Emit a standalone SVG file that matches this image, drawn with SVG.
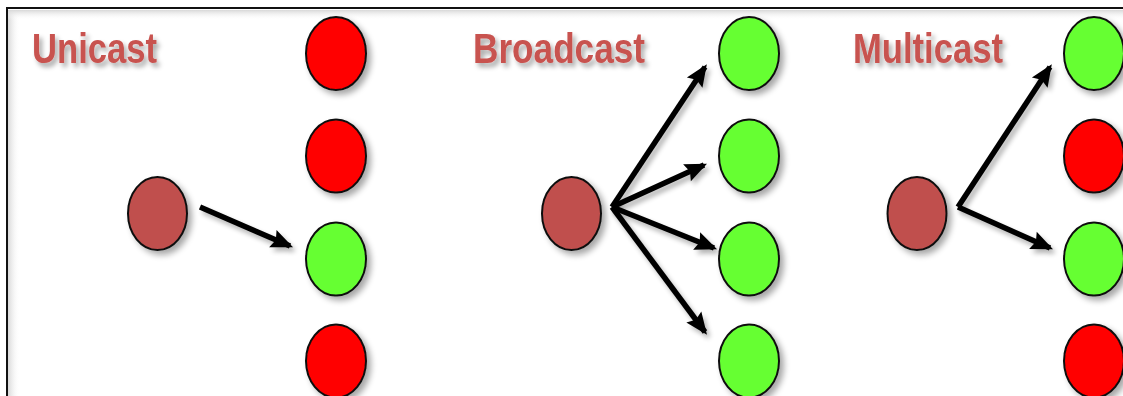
<svg xmlns="http://www.w3.org/2000/svg" width="1123" height="396" viewBox="0 0 1123 396">
  <style>
    .title { font-family: "Liberation Sans", Arial, sans-serif; font-weight: bold; font-size: 42px; fill: #C8524F; filter: url(#textShadow); }
    .node { stroke: #111; stroke-width: 2; filter: url(#nodeShadow); }
    .src { fill: #C0504D; }
    .on { fill: #66FF33; }
    .off { fill: #FF0000; }
    .link { stroke: #000; stroke-width: 5.5; fill: none; marker-end: url(#head); filter: url(#lineShadow); }
  </style>
  <defs>
    <filter id="nodeShadow" x="-40%" y="-40%" width="190%" height="190%">
      <feGaussianBlur in="SourceAlpha" stdDeviation="3"/>
      <feOffset dx="4" dy="4" result="b"/>
      <feComponentTransfer><feFuncA type="linear" slope="0.35"/></feComponentTransfer>
      <feMerge><feMergeNode/><feMergeNode in="SourceGraphic"/></feMerge>
    </filter>
    <filter id="lineShadow" x="-30%" y="-30%" width="160%" height="160%">
      <feGaussianBlur in="SourceAlpha" stdDeviation="2.5"/>
      <feOffset dx="3" dy="4" result="b"/>
      <feComponentTransfer><feFuncA type="linear" slope="0.3"/></feComponentTransfer>
      <feMerge><feMergeNode/><feMergeNode in="SourceGraphic"/></feMerge>
    </filter>
    <filter id="textShadow" x="-20%" y="-40%" width="140%" height="190%">
      <feGaussianBlur in="SourceAlpha" stdDeviation="2.5"/>
      <feOffset dx="3" dy="4" result="b"/>
      <feComponentTransfer><feFuncA type="linear" slope="0.35"/></feComponentTransfer>
      <feMerge><feMergeNode/><feMergeNode in="SourceGraphic"/></feMerge>
    </filter>
    <linearGradient id="edgeL" x1="0" x2="1" y1="0" y2="0">
      <stop offset="0" stop-color="#d8d8d8"/>
      <stop offset="1" stop-color="#ffffff" stop-opacity="0"/>
    </linearGradient>
    <linearGradient id="edgeT" x1="0" x2="0" y1="0" y2="1">
      <stop offset="0" stop-color="#d8d8d8"/>
      <stop offset="1" stop-color="#ffffff" stop-opacity="0"/>
    </linearGradient>
    <!-- arrowhead sized in user units so it stays independent of line width -->
    <marker id="head" viewBox="0 0 20 20" refX="17" refY="10" markerWidth="22" markerHeight="22" orient="auto" markerUnits="userSpaceOnUse" overflow="visible">
      <path d="M0,1.5 L20,10 L0,18.5 L3,10 Z" fill="#000"/>
    </marker>
  </defs>

  <!-- frame -->
  <rect width="1123" height="396" fill="#fff"/>
  <rect x="8" y="10" width="12" height="386" fill="url(#edgeL)"/>
  <rect x="8" y="10" width="1115" height="10" fill="url(#edgeT)"/>
  <path d="M7,396 V8 H1123" fill="none" stroke="#111" stroke-width="2"/>

  <!-- titles -->
  <text class="title" x="32" y="63" textLength="125" lengthAdjust="spacingAndGlyphs">Unicast</text>
  <text class="title" x="473" y="63" textLength="172" lengthAdjust="spacingAndGlyphs">Broadcast</text>
  <text class="title" x="853" y="63" textLength="150" lengthAdjust="spacingAndGlyphs">Multicast</text>

  <!-- connectors -->
  <g id="connectors">
    <line class="link" x1="200" y1="207" x2="290" y2="246"/>
    <polyline class="link" points="612,207 705,67"/>
    <polyline class="link" points="612,207 704,165"/>
    <polyline class="link" points="612,207 714,248"/>
    <polyline class="link" points="612,207 705,332"/>
    <polyline class="link" points="958,207 1050,67"/>
    <polyline class="link" points="958,207 1050,248"/>
  </g>

  <!-- unicast -->
  <g id="uni-src"><ellipse class="node src" cx="157.5" cy="213.5" rx="29.5" ry="36.5"/></g>
  <g id="uni-1"><ellipse class="node off" cx="336" cy="53.5" rx="30" ry="36.5"/></g>
  <g id="uni-2"><ellipse class="node off" cx="336" cy="156" rx="30" ry="36.5"/></g>
  <g id="uni-3"><ellipse class="node on" cx="336" cy="259" rx="30" ry="36.5"/></g>
  <g id="uni-4"><ellipse class="node off" cx="336" cy="361" rx="30" ry="36.5"/></g>

  <!-- broadcast -->
  <g id="bc-src"><ellipse class="node src" cx="571.5" cy="213.5" rx="29.5" ry="36.5"/></g>
  <g id="bc-1"><ellipse class="node on" cx="749" cy="53.5" rx="30" ry="36.5"/></g>
  <g id="bc-2"><ellipse class="node on" cx="749" cy="156" rx="30" ry="36.5"/></g>
  <g id="bc-3"><ellipse class="node on" cx="749" cy="259" rx="30" ry="36.5"/></g>
  <g id="bc-4"><ellipse class="node on" cx="749" cy="361" rx="30" ry="36.5"/></g>

  <!-- multicast -->
  <g id="mc-src"><ellipse class="node src" cx="917" cy="213.5" rx="29.5" ry="36.5"/></g>
  <g id="mc-1"><ellipse class="node on" cx="1094" cy="53.5" rx="30" ry="36.5"/></g>
  <g id="mc-2"><ellipse class="node off" cx="1094" cy="156" rx="30" ry="36.5"/></g>
  <g id="mc-3"><ellipse class="node on" cx="1094" cy="259" rx="30" ry="36.5"/></g>
  <g id="mc-4"><ellipse class="node off" cx="1094" cy="361" rx="30" ry="36.5"/></g>
</svg>
